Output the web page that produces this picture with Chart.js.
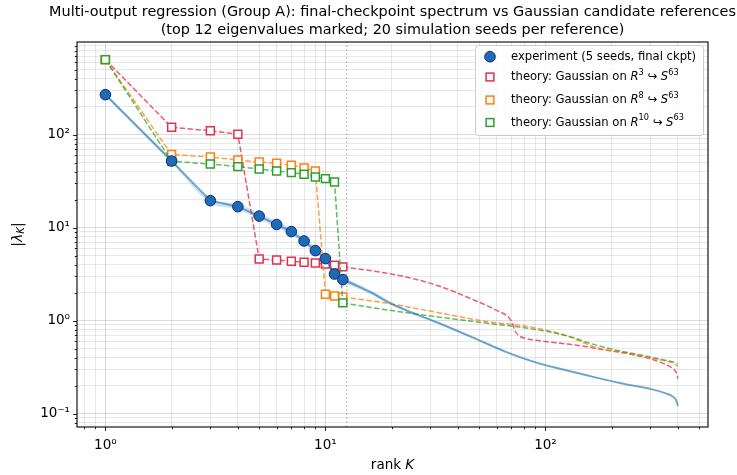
<!DOCTYPE html>
<html>
<head>
<meta charset="utf-8">
<script src="https://cdn.jsdelivr.net/npm/chart.js@4.4.1/dist/chart.umd.min.js"></script>
<style>
  html, body { margin: 0; padding: 0; background: #ffffff; }
  #c { display: block; }
</style>
</head>
<body>
<canvas id="c" width="737" height="475" style="width:737px;height:475px"></canvas>
<script>
// ---------------- data ----------------
const titleLines = [
  'Multi-output regression (Group A): final-checkpoint spectrum vs Gaussian candidate references',
  '(top 12 eigenvalues marked; 20 simulation seeds per reference)'
];
const xLabelText = 'rank ';
const xLabelItalic = 'K';

const kTop = [1, 2, 3, 4, 5, 6, 7, 8, 9, 10, 11, 12];

// experiment (mean over 5 seeds)
const expTop = [269, 52, 19.5, 16.8, 13.3, 10.8, 9.06, 7.18, 5.66, 4.64, 3.17, 2.76];
const expTailK = [12, 14, 16.5, 19.6, 23.3, 33.1, 46.9, 66.5, 94, 108, 154, 218, 309, 350, 380, 392, 400];
const expTail = [2.76, 2.35, 1.95, 1.55, 1.29, 0.93, 0.656, 0.459, 0.345, 0.317, 0.258, 0.213, 0.181, 0.166, 0.152, 0.14, 0.121];
const expBandLow = [255, 50, 18.4, 15.7, 12.4, 10.0, 8.4, 6.65, 5.25, 4.3, 2.95, 2.58, 2.22, 1.86, 1.49, 1.25, 0.91, 0.645, 0.452, 0.34, 0.313, 0.255, 0.211, 0.179, 0.164, 0.15, 0.138, 0.119];
const expBandHigh = [283, 54, 20.6, 17.9, 14.3, 11.7, 9.8, 7.75, 6.1, 5.0, 3.4, 2.95, 2.48, 2.04, 1.61, 1.33, 0.95, 0.667, 0.466, 0.35, 0.321, 0.261, 0.215, 0.183, 0.168, 0.154, 0.142, 0.123];

// theory: Gaussian on R^3 -> S^63
const r3Top = [640, 120, 110, 101, 4.59, 4.49, 4.35, 4.24, 4.16, 4.06, 3.94, 3.78];
const r3TailK = [12, 16.5, 23.3, 33.1, 46.9, 59.9, 68.8, 71.3, 72.5, 75.5, 82, 91, 129, 154, 183, 218, 259, 309, 331, 360, 380, 392, 400];
const r3Tail = [3.78, 3.41, 2.94, 2.34, 1.68, 1.29, 1.05, 0.89, 0.787, 0.695, 0.64, 0.614, 0.556, 0.525, 0.487, 0.46, 0.423, 0.38, 0.359, 0.33, 0.305, 0.28, 0.238];

// theory: Gaussian on R^8 -> S^63
const r8Top = [640, 61.0, 57.4, 53.3, 50.7, 49.1, 46.8, 43.8, 40.6, 1.92, 1.84, 1.80];
const r8TailK = [12, 19.6, 33.1, 55.8, 76.4, 94, 108, 133, 154, 183, 218, 259, 309, 350, 380, 400];
const r8Tail = [1.80, 1.52, 1.21, 0.966, 0.89, 0.82, 0.76, 0.65, 0.56, 0.49, 0.455, 0.425, 0.39, 0.37, 0.35, 0.323];

// theory: Gaussian on R^10 -> S^63
const r10Top = [640, 51.6, 48.3, 45.3, 42.7, 40.6, 39.0, 37.4, 35.0, 33.6, 30.9, 1.55];
const r10TailK = [12, 19.6, 33.1, 55.8, 76.4, 94, 108, 133, 154, 189, 218, 268, 309, 350, 380, 400];
const r10Tail = [1.55, 1.29, 1.09, 0.93, 0.853, 0.79, 0.745, 0.66, 0.585, 0.51, 0.471, 0.43, 0.40, 0.375, 0.36, 0.345];

const cutoffK = 12.5;

const xMajorTicks = [1, 10, 100];
const xMajorLabels = ['10\u2070', '10\u00b9', '10\u00b2'];
const yMajorTicks = [0.1, 1, 10, 100];
const yMajorLabels = ['10\u207b\u00b9', '10\u2070', '10\u00b9', '10\u00b2'];

const X_MIN = 0.743, X_MAX = 548;
const Y_MIN = 0.0718, Y_MAX = 990;

// ---------------- helpers ----------------
const pts = (xs, ys) => xs.map((x, i) => ({ x: x, y: ys[i] }));
const kAll = kTop.concat(expTailK.slice(1));

function logTicks(min, max) {
  const t = [];
  for (let e = Math.floor(Math.log10(min)); e <= Math.ceil(Math.log10(max)); e++) {
    for (let m = 1; m <= 9; m++) {
      const v = parseFloat((m * Math.pow(10, e)).toPrecision(6));
      if (v >= min && v <= max) t.push({ value: v, major: m === 1 });
    }
  }
  return t;
}
function majorLabel(v, majors, labels) {
  for (let i = 0; i < majors.length; i++) {
    if (Math.abs(Math.log10(v) - Math.log10(majors[i])) < 1e-6) return labels[i];
  }
  return '';
}

const RED = '#e2304f', ORANGE = '#ff7f0e', GREEN = '#2ca02c';
const RED_L = 'rgba(226,48,79,0.78)', ORANGE_L = 'rgba(255,127,14,0.75)', GREEN_L = 'rgba(44,160,44,0.72)';
const BLUE_LINE = 'rgba(31,119,180,0.6)';
const DASH = [5.5, 2.4];

function theoryHead(data, edge, line, ord) {
  return {
    data: data, showLine: true, borderColor: line, borderWidth: 1.5, borderDash: DASH,
    pointStyle: 'rect', pointRadius: 5.6, pointBorderColor: edge, pointBackgroundColor: '#ffffff',
    pointBorderWidth: 1.5, tension: 0, order: ord
  };
}
function theoryTail(data, line, ord) {
  return {
    data: data, showLine: true, borderColor: line, borderWidth: 1.5, borderDash: DASH,
    pointRadius: 0, cubicInterpolationMode: 'monotone', order: ord
  };
}

const datasets = [
  { data: pts(kTop, expTop), showLine: false, pointRadius: 5.3, pointBackgroundColor: '#1f6cb5',
    pointBorderColor: '#0b2a80', pointBorderWidth: 1, order: 0 },
  { data: pts(kTop, expTop), showLine: true, borderColor: BLUE_LINE, borderWidth: 2, pointRadius: 0, tension: 0, order: 1 },
  { data: pts(expTailK, expTail), showLine: true, borderColor: BLUE_LINE, borderWidth: 2, pointRadius: 0,
    cubicInterpolationMode: 'monotone', order: 1 },
  theoryHead(pts(kTop, r10Top), GREEN, GREEN_L, 2),
  theoryTail(pts(r10TailK, r10Tail), GREEN_L, 3),
  theoryHead(pts(kTop, r8Top), ORANGE, ORANGE_L, 4),
  theoryTail(pts(r8TailK, r8Tail), ORANGE_L, 5),
  theoryHead(pts(kTop, r3Top), RED, RED_L, 6),
  theoryTail(pts(r3TailK, r3Tail), RED_L, 7),
  { data: pts(kAll, expBandLow), showLine: true, borderWidth: 0, borderColor: 'rgba(0,0,0,0)', pointRadius: 0,
    cubicInterpolationMode: 'monotone', order: 9 },
  { data: pts(kAll, expBandHigh), showLine: true, borderWidth: 0, borderColor: 'rgba(0,0,0,0)', pointRadius: 0,
    cubicInterpolationMode: 'monotone', fill: '-1', backgroundColor: 'rgba(31,119,180,0.22)', order: 8 },
  { data: [{ x: cutoffK, y: Y_MIN }, { x: cutoffK, y: Y_MAX }], showLine: true, borderColor: 'rgba(120,120,120,0.7)',
    borderWidth: 1, borderDash: [1.5, 2.5], pointRadius: 0, order: 10 }
];

// ---------------- decorations plugin ----------------
const FONT = '"DejaVu Sans", "Liberation Sans", sans-serif';

function drawRich(ctx, parts, x, y, align) {
  let total = 0;
  parts.forEach(p => { ctx.font = (p.italic ? 'italic ' : '') + p.size + 'px ' + FONT; p.w = ctx.measureText(p.t).width; total += p.w; });
  let cx = align === 'center' ? x - total / 2 : x;
  parts.forEach(p => {
    ctx.font = (p.italic ? 'italic ' : '') + p.size + 'px ' + FONT;
    ctx.fillText(p.t, cx, y + (p.dy || 0));
    cx += p.w;
  });
}

const decor = {
  id: 'decor',
  afterDraw(chart) {
    const ctx = chart.ctx;
    const a = chart.chartArea;
    ctx.save();
    ctx.strokeStyle = '#222';
    ctx.lineWidth = 1;
    const xs = chart.scales.x, ys = chart.scales.y;
    xs.ticks.forEach(t => {
      const px = Math.round(xs.getPixelForValue(t.value)) + 0.5;
      const len = t.major ? 4 : 2.2;
      ctx.beginPath(); ctx.moveTo(px, a.bottom); ctx.lineTo(px, a.bottom + len); ctx.stroke();
    });
    ys.ticks.forEach(t => {
      const py = Math.round(ys.getPixelForValue(t.value)) + 0.5;
      const len = t.major ? 4 : 2.2;
      ctx.beginPath(); ctx.moveTo(a.left, py); ctx.lineTo(a.left - len, py); ctx.stroke();
    });
    ctx.strokeStyle = '#000';
    ctx.lineWidth = 1.1;
    ctx.strokeRect(a.left, a.top, a.right - a.left, a.bottom - a.top);

    ctx.fillStyle = '#000';
    ctx.textBaseline = 'middle';
    ctx.textAlign = 'left';
    const cxTitle = (a.left + a.right) / 2;
    drawRich(ctx, [{ t: titleLines[0], size: 14.4 }], cxTitle, 12.5, 'center');
    drawRich(ctx, [{ t: titleLines[1], size: 14.4 }], cxTitle, 30.5, 'center');

    drawRich(ctx, [{ t: xLabelText, size: 13.5 }, { t: xLabelItalic, size: 13.5, italic: true }], cxTitle, 465, 'center');

    ctx.save();
    ctx.translate(18, (a.top + a.bottom) / 2);
    ctx.rotate(-Math.PI / 2);
    drawRich(ctx, [{ t: '|', size: 14 }, { t: '\u03bb', size: 14, italic: true },
                   { t: 'K', size: 10, italic: true, dy: 3.5 }, { t: '|', size: 14 }], 0, 0, 'center');
    ctx.restore();

    const L = { x: 475, y: 45, w: 228, h: 90 };
    ctx.fillStyle = 'rgba(255,255,255,0.85)';
    ctx.strokeStyle = '#cccccc';
    ctx.lineWidth = 1;
    ctx.beginPath();
    ctx.roundRect(L.x + 0.5, L.y + 0.5, L.w, L.h, 3);
    ctx.fill(); ctx.stroke();

    const mx = 490, tx = 511;
    const rows = [56.7, 77, 100, 122.5];
    ctx.beginPath(); ctx.arc(mx, rows[0], 5.3, 0, Math.PI * 2);
    ctx.fillStyle = '#1f6cb5'; ctx.fill(); ctx.strokeStyle = '#0b2a80'; ctx.lineWidth = 1; ctx.stroke();
    const sq = [[RED, '3'], [ORANGE, '8'], [GREEN, '10']];
    ctx.fillStyle = '#000';
    ctx.textBaseline = 'middle';
    drawRich(ctx, [{ t: 'experiment (5 seeds, final ckpt)', size: 11.6 }], tx, rows[0], 'left');
    sq.forEach((s, i) => {
      const y = rows[i + 1];
      ctx.fillStyle = '#ffffff';
      ctx.fillRect(mx - 3.9, y - 3.9, 7.8, 7.8);
      ctx.strokeStyle = s[0]; ctx.lineWidth = 1.5;
      ctx.strokeRect(mx - 3.9, y - 3.9, 7.8, 7.8);
      ctx.fillStyle = '#000';
      drawRich(ctx, [
        { t: 'theory: Gaussian on ', size: 11.6 },
        { t: 'R', size: 11.6, italic: true },
        { t: s[1], size: 8.2, dy: -4.5 },
        { t: ' \u21aa ', size: 11.6 },
        { t: 'S', size: 11.6, italic: true },
        { t: '63', size: 8.2, dy: -4.5 }
      ], tx, y, 'left');
    });
    ctx.restore();
  }
};

// ---------------- chart ----------------
const gridColor = c => (c.tick && c.tick.major) ? 'rgba(0,0,0,0.14)' : 'rgba(0,0,0,0.09)';

new Chart(document.getElementById('c'), {
  type: 'scatter',
  data: { datasets: datasets },
  options: {
    responsive: false,
    animation: false,
    devicePixelRatio: 1,
    layout: { padding: { top: 42, right: 29, bottom: 0, left: 0 } },
    plugins: { legend: { display: false }, tooltip: { enabled: false }, title: { display: false } },
    elements: { line: { borderCapStyle: 'butt' } },
    scales: {
      x: {
        type: 'logarithmic', min: X_MIN, max: X_MAX, bounds: 'data',
        afterBuildTicks: s => { s.ticks = logTicks(X_MIN, X_MAX); },
        afterFit: s => { s.height = 48; s.paddingLeft = 0; s.paddingRight = 0; },
        ticks: {
          autoSkip: false, maxRotation: 0, minRotation: 0, padding: 10, color: '#000',
          font: { family: FONT, size: 13.5 },
          callback: v => majorLabel(v, xMajorTicks, xMajorLabels)
        },
        grid: { color: gridColor, lineWidth: 1, drawTicks: false },
        border: { display: false }
      },
      y: {
        type: 'logarithmic', min: Y_MIN, max: Y_MAX, bounds: 'data',
        afterBuildTicks: s => { s.ticks = logTicks(Y_MIN, Y_MAX); },
        afterFit: s => { s.width = 77; s.paddingTop = 0; s.paddingBottom = 0; },
        ticks: {
          autoSkip: false, padding: 7, color: '#000',
          font: { family: FONT, size: 13.5 },
          callback: v => majorLabel(v, yMajorTicks, yMajorLabels)
        },
        grid: { color: gridColor, lineWidth: 1, drawTicks: false },
        border: { display: false }
      }
    }
  },
  plugins: [decor]
});
</script>
</body>
</html>
